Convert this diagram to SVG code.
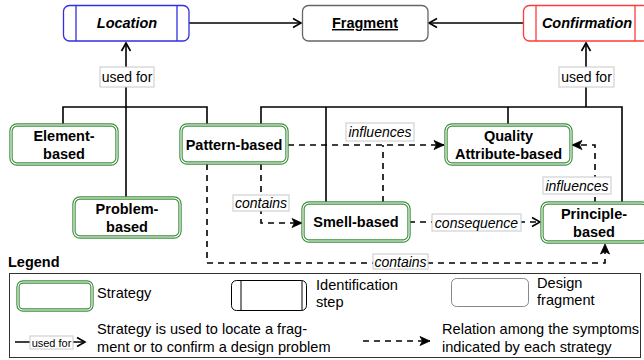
<svg xmlns="http://www.w3.org/2000/svg" width="644" height="360" viewBox="0 0 644 360">
<defs>
<marker id="open" markerUnits="userSpaceOnUse" markerWidth="12" markerHeight="12" viewBox="0 0 12 12" refX="10" refY="6" orient="auto">
<path d="M2,1.5 L10,6 L2,10.5" fill="none" stroke="#000" stroke-width="1.6"/>
</marker>
<marker id="fill" markerUnits="userSpaceOnUse" markerWidth="12" markerHeight="12" viewBox="0 0 12 12" refX="11" refY="6" orient="auto">
<path d="M1,1.5 L11,6 L1,10.5 L3.5,6 Z" fill="#000" stroke="#000" stroke-width="0.8"/>
</marker>
</defs>
<style>
text{font-family:"Liberation Sans",Arial,sans-serif;fill:#000}
.node{font-size:14.5px;font-weight:bold;text-anchor:middle}
.lab{font-size:14px;font-style:italic;text-anchor:middle}
.lbox{fill:#fff;stroke:#c8c8c8;stroke-width:1}
.leg{font-size:14.6px}
.g1{fill:#fff;stroke:#3d8f3d;stroke-width:3.4}
.g2{fill:none;stroke:#fff;stroke-width:1.1}
.solid{fill:none;stroke:#000;stroke-width:1.6}
.dash{fill:none;stroke:#000;stroke-width:1.6;stroke-dasharray:6 5}
</style>
<g id="connectors">
<path class="solid" d="M189,23 H301" marker-end="url(#open)"/>
<path class="solid" d="M523,23 H429" marker-end="url(#open)"/>
<path class="solid" d="M63,124 V107 H207 V125"/>
<path class="solid" d="M126,197 V43" marker-end="url(#open)"/>
<path class="solid" d="M261,125 V107 H622 V203"/>
<path class="solid" d="M326,202 V107"/>
<path class="solid" d="M508,124 V107"/>
<path class="solid" d="M586,107 V43" marker-end="url(#open)"/>
<path class="dash" d="M288,145 H444" marker-end="url(#fill)"/>
<path class="dash" d="M383,202 V145"/>
<path class="dash" d="M261,164 V223 H302" marker-end="url(#fill)"/>
<path class="dash" d="M207,164 V263 H605 V244" marker-end="url(#fill)"/>
<path class="dash" d="M409,222 H540" marker-end="url(#open)"/>
<path class="dash" d="M595,203 V145 H572" marker-end="url(#fill)"/>
<rect class="lbox" x="100" y="67" width="54" height="20"/>
<text x="127" y="82" font-size="14px" text-anchor="middle">used for</text>
<rect class="lbox" x="559" y="67" width="55" height="20"/>
<text x="586.5" y="82" font-size="14px" text-anchor="middle">used for</text>
<rect class="lbox" x="346" y="123" width="68" height="18"/>
<text class="lab" x="380" y="137">influences</text>
<rect class="lbox" x="233" y="195" width="56" height="16"/>
<text class="lab" x="261" y="208">contains</text>
<rect class="lbox" x="373" y="254" width="55" height="15"/>
<text class="lab" x="400.5" y="267">contains</text>
<rect class="lbox" x="432" y="214" width="89" height="17"/>
<text class="lab" x="476.5" y="228">consequence</text>
<rect class="lbox" x="543" y="177" width="68" height="17"/>
<text class="lab" x="577" y="191">influences</text>
</g>
<g id="location">
<rect x="63.5" y="5.5" width="125.5" height="35.5" rx="6" fill="#fff" stroke="#3030e0" stroke-width="1.3"/>
<path d="M76,5.5 V41 M177,5.5 V41" stroke="#3030e0" stroke-width="1.3"/>
<text class="node" x="127" y="28" font-style="italic">Location</text>
</g>
<g id="fragment">
<rect x="302.5" y="5.5" width="125.5" height="35.5" rx="6" fill="#fff" stroke="#666" stroke-width="1.3"/>
<text class="node" x="365" y="28" text-decoration="underline">Fragment</text>
</g>
<g id="confirmation">
<rect x="523.5" y="5.5" width="125.5" height="35.5" rx="6" fill="#fff" stroke="#ff3b3b" stroke-width="1.3"/>
<path d="M536,5.5 V41 M635,5.5 V41" stroke="#ff3b3b" stroke-width="1.3"/>
<text class="node" x="587" y="28" font-style="italic">Confirmation</text>
</g>
<g id="element-based">
<rect class="g1" x="11" y="125" width="106" height="39" rx="6"/>
<rect class="g2" x="11" y="125" width="106" height="39" rx="6"/>
<text class="node" x="64" y="141">Element-</text>
<text class="node" x="64" y="159">based</text>
</g>
<g id="problem-based">
<rect class="g1" x="74" y="198" width="106" height="39" rx="6"/>
<rect class="g2" x="74" y="198" width="106" height="39" rx="6"/>
<text class="node" x="127" y="214">Problem-</text>
<text class="node" x="127" y="232">based</text>
</g>
<g id="pattern-based">
<rect class="g1" x="181" y="125" width="106" height="38" rx="6"/>
<rect class="g2" x="181" y="125" width="106" height="38" rx="6"/>
<text class="node" x="234" y="150">Pattern-based</text>
</g>
<g id="smell-based">
<rect class="g1" x="303" y="203" width="106" height="38" rx="6"/>
<rect class="g2" x="303" y="203" width="106" height="38" rx="6"/>
<text class="node" x="356" y="227">Smell-based</text>
</g>
<g id="quality-attribute-based">
<rect class="g1" x="446" y="125" width="125" height="39" rx="6"/>
<rect class="g2" x="446" y="125" width="125" height="39" rx="6"/>
<text class="node" x="508.5" y="141">Quality</text>
<text class="node" x="508.5" y="159">Attribute-based</text>
</g>
<g id="principle-based">
<rect class="g1" x="542" y="203" width="106" height="39" rx="6"/>
<rect class="g2" x="542" y="203" width="106" height="39" rx="6"/>
<text class="node" x="594" y="219">Principle-</text>
<text class="node" x="594" y="237">based</text>
</g>
<g id="legend">
<text x="8" y="267" font-size="14.5px" font-weight="bold">Legend</text>
<rect x="9.5" y="273.5" width="631" height="84" fill="none" stroke="#333" stroke-width="1"/>
<rect class="g1" x="18" y="282" width="74" height="28" rx="5"/>
<rect class="g2" x="18" y="282" width="74" height="28" rx="5"/>
<text class="leg" x="97" y="298">Strategy</text>
<rect x="231.5" y="280.5" width="75" height="30" rx="5" fill="#fff" stroke="#000" stroke-width="1"/>
<path d="M241,280.5 V310.5 M302,280.5 V310.5" stroke="#000" stroke-width="1"/>
<text class="leg" x="316" y="290">Identification</text>
<text class="leg" x="316" y="307">step</text>
<rect x="451.5" y="278.5" width="77" height="28" rx="5" fill="#fff" stroke="#888" stroke-width="1"/>
<text class="leg" x="537" y="288">Design</text>
<text class="leg" x="537" y="305">fragment</text>
<path class="solid" d="M15,342 H85" marker-end="url(#open)"/>
<rect class="lbox" x="30" y="336" width="43" height="13"/>
<text x="51.5" y="346.5" font-size="11px" text-anchor="middle">used for</text>
<text class="leg" x="97" y="334">Strategy is used to locate a frag-</text>
<text class="leg" x="97" y="352">ment or to confirm a design problem</text>
<path class="dash" d="M363,341 H430" marker-end="url(#fill)"/>
<text class="leg" x="442" y="334">Relation among the symptoms</text>
<text class="leg" x="442" y="352">indicated by each strategy</text>
</g>
</svg>
